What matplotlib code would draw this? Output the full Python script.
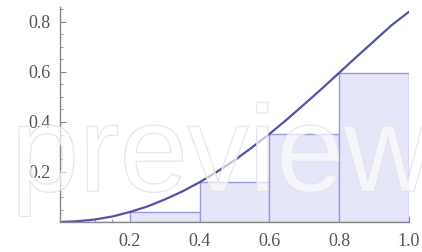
import matplotlib
matplotlib.use("Agg")
import matplotlib.pyplot as plt
import matplotlib.patheffects as pe
from matplotlib.ticker import MultipleLocator, FixedLocator

# curve samples
curve_x = [0.0, 0.05, 0.1, 0.15, 0.2, 0.25, 0.3, 0.35, 0.4, 0.45, 0.5,
           0.55, 0.6, 0.65, 0.7, 0.75, 0.8, 0.85, 0.9, 0.95, 1.0]
curve_y = [0.0, 0.003, 0.010, 0.022, 0.040, 0.062, 0.090, 0.122, 0.159, 0.201, 0.247,
           0.298, 0.352, 0.410, 0.471, 0.533, 0.597, 0.661, 0.724, 0.787, 0.841]

# rectangles (left Riemann sum)
bar_left = [0.0, 0.2, 0.4, 0.6, 0.8]
bar_height = [0.0, 0.040, 0.159, 0.352, 0.597]
bar_width = 0.2

xticks = [0.2, 0.4, 0.6, 0.8, 1.0]
yticks = [0.2, 0.4, 0.6, 0.8]

fig = plt.figure(figsize=(4.22, 2.52), dpi=100)
ax = fig.add_axes([60/422, 30/252, 349/422, 215/252])
ax.set_xlim(0, 1.0)
ax.set_ylim(0, 0.86)

ax.bar(bar_left, bar_height, width=bar_width, align='edge',
       color='#e6e6fa', edgecolor='#9a9ae0', linewidth=1.0, zorder=2)
ax.plot(curve_x, curve_y, color='#5252a8', linewidth=1.6, zorder=3,
        solid_capstyle='round')

for s in ['top', 'right']:
    ax.spines[s].set_visible(False)
for s in ['left', 'bottom']:
    ax.spines[s].set_color('#888888')
    ax.spines[s].set_linewidth(1.0)
    ax.spines[s].set_zorder(4)

ax.xaxis.set_major_locator(FixedLocator(xticks))
ax.yaxis.set_major_locator(FixedLocator(yticks))
ax.xaxis.set_minor_locator(MultipleLocator(0.05))
ax.yaxis.set_minor_locator(MultipleLocator(0.05))
ax.set_xticklabels(['%.1f' % v for v in xticks])
ax.set_yticklabels(['%.1f' % v for v in yticks])
ax.tick_params(which='major', direction='in', length=4, width=0.8, color='#888888',
               labelsize=13, labelcolor='#555555')
ax.tick_params(which='minor', direction='in', length=2, width=0.6, color='#888888')
ax.tick_params(axis='x', which='major', pad=8)
ax.tick_params(axis='y', which='major', pad=7)
for lab in ax.get_xticklabels() + ax.get_yticklabels():
    lab.set_family('Liberation Serif')

# watermark
fig.text(0.525, 1 - 191/252, 'preview', ha='center', va='baseline', fontsize=88,
         family='Liberation Sans', color=(1, 1, 1, 0.3), zorder=10,
         path_effects=[pe.withStroke(linewidth=1.0, foreground='#e2e2e2'), pe.Normal()])

fig.savefig('out.png', dpi=100)
